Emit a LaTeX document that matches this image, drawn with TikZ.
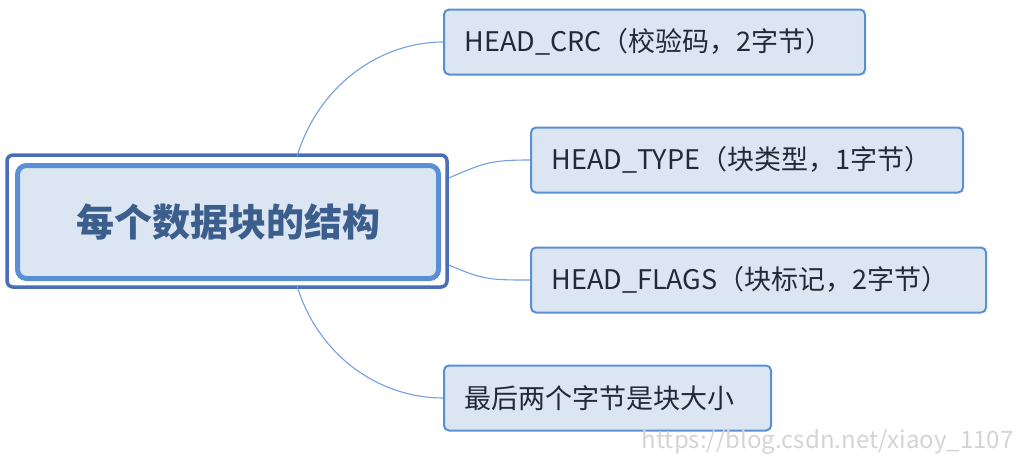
\documentclass[tikz,border=0pt]{standalone}
\usepackage{fontspec}
\setmainfont{Noto Sans CJK SC}
\usetikzlibrary{calc}
\definecolor{boxfill}{HTML}{DCE6F2}
\definecolor{boxline}{HTML}{5B8FD4}
\definecolor{outerline}{HTML}{4A6DB8}
\definecolor{titletext}{HTML}{3B5E8C}
\definecolor{itemtext}{HTML}{1F2A3A}
\definecolor{linkline}{HTML}{73A0DE}
\definecolor{wm}{HTML}{D4D4D4}
\tikzset{
  itembox/.style={draw=boxline, fill=boxfill, line width=2pt, rounded corners=5pt,
    minimum height=65pt, anchor=west},
  itemtxt/.style={anchor=west, font=\fontsize{27}{30}\selectfont, text=itemtext, xshift=18pt},
  link/.style={draw=linkline, line width=1.1pt}
}
\begin{document}
\begin{tikzpicture}[x=1pt,y=-1pt]
\useasboundingbox (0,0) rectangle (1019,461);
% central node
\node[draw=outerline, line width=3.5pt, rounded corners=6pt, minimum width=440pt, minimum height=132pt] (outer) at (227,221) {};
\node[draw=boxline, fill=boxfill, line width=5pt, rounded corners=9pt, minimum width=421pt, minimum height=113pt,
  font=\fontsize{38}{44}\selectfont\bfseries, text=titletext] (root) at (228,222) {每个数据块的结构};
% items
\node[itembox, minimum width=421pt] (n1) at (443,42) {};
\node[itemtxt] (t1) at (n1.west) {HEAD\_CRC（校验码，2字节）};
\node[itembox, minimum width=432pt] (n2) at (530,160) {};
\node[itemtxt] (t2) at (n2.west) {HEAD\_TYPE（块类型，1字节）};
\node[itembox, minimum width=455pt] (n3) at (530,280) {};
\node[itemtxt] (t3) at (n3.west) {HEAD\_FLAGS（块标记，2字节）};
\node[itembox, minimum width=327pt] (n4) at (443,398) {};
\node[itemtxt] (t4) at (n4.west) {最后两个字节是块大小};
% connectors
\draw[link] ([xshift=70pt,yshift=-3pt]outer.north) .. controls +(22,-72) and +(-62,0) .. (n1.west);
\draw[link] ([yshift=43pt]outer.east) .. controls +(35,-15) and +(-40,0) .. (n2.west);
\draw[link] ([yshift=-44pt]outer.east) .. controls +(35,15) and +(-40,0) .. (n3.west);
\draw[link] ([xshift=70pt,yshift=3pt]outer.south) .. controls +(22,72) and +(-62,0) .. (n4.west);
% watermark
\node[anchor=east, text=wm, font=\fontsize{24}{26}\selectfont] (wmk) at (1017,442) {https://blog.csdn.net/xiaoy\_1107};
\end{tikzpicture}
\end{document}
